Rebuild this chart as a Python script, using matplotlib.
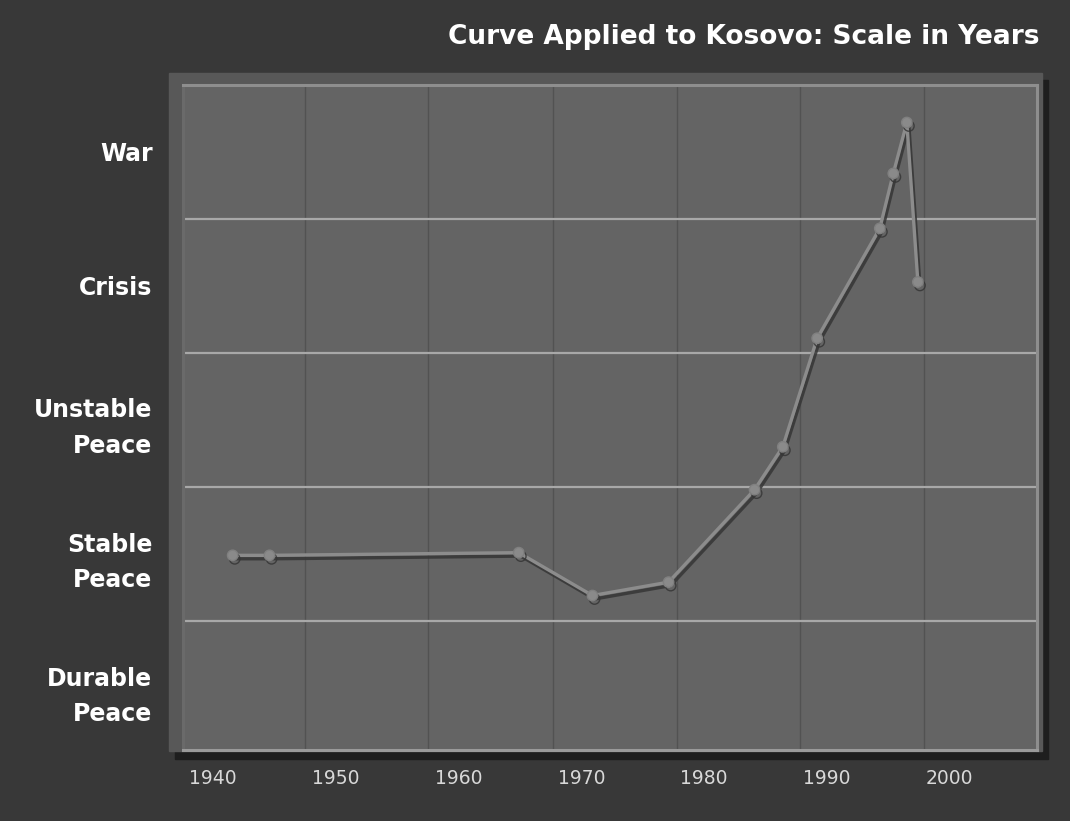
import matplotlib
matplotlib.use("Agg")
import matplotlib.pyplot as plt
import matplotlib.patheffects as pe
from matplotlib.patches import Rectangle

# ---- data ----
years = [1941.6, 1944.6, 1964.9, 1970.9, 1977.1, 1984.1, 1986.4, 1989.2, 1994.3, 1995.4, 1996.5, 1997.4]
levels = [1.49, 1.49, 1.51, 1.19, 1.29, 1.98, 2.30, 3.11, 3.93, 4.34, 4.72, 3.53]
level_labels = ["Durable\nPeace", "Stable\nPeace", "Unstable\nPeace", "Crisis", "War"]
year_ticks = [1940, 1950, 1960, 1970, 1980, 1990, 2000]
title = "Curve Applied to Kosovo: Scale in Years"

W, H = 1070, 821
fig = plt.figure(figsize=(W / 100, H / 100), dpi=100, facecolor="#383838")

def px_rect(x0, y0, x1, y1, **kw):
    r = Rectangle((x0 / W, 1 - y1 / H), (x1 - x0) / W, (y1 - y0) / H,
                  transform=fig.transFigure, zorder=-10, **kw)
    fig.patches.append(r)

# shadow and bevel frame
px_rect(175, 80, 1048, 759, color="#1e1e1e")
px_rect(169, 73, 1042, 751, color="#585858")

ax_l, ax_r, ax_t, ax_b = 183, 1037, 85, 750
ax = fig.add_axes([ax_l / W, 1 - ax_b / H, (ax_r - ax_l) / W, (ax_b - ax_t) / H])
ax.set_zorder(5)
ax.set_facecolor("#646464")

ppy = 12.28
x0 = 1940 - (213 - ax_l) / ppy
x1 = x0 + (ax_r - ax_l) / ppy
ax.set_xlim(x0, x1)
ax.set_ylim(5 - (ax_b - ax_t) / 134.0, 5)

# grid
for gx in [1947.5, 1957.5, 1967.7, 1977.8, 1987.8, 1997.9]:
    ax.axvline(gx, color="#525252", lw=1.0, zorder=1)
for gy in [1, 2, 3, 4]:
    ax.axhline(gy, color="#a8a8a8", lw=1.6, zorder=1)

for s in ax.spines.values():
    s.set_linewidth(2.2)
ax.spines["top"].set_color("#8e8e8e")
ax.spines["right"].set_color("#8e8e8e")
ax.spines["left"].set_color("#6a6a6a")
ax.spines["bottom"].set_color("#9a9a9a")

ax.plot(years, levels, color="#8c8c8c", lw=2.4, marker="o", ms=7.5,
        markerfacecolor="#8a8a8a", markeredgecolor="#808080", zorder=3,
        path_effects=[pe.SimpleLineShadow(offset=(1.5, -2.5), shadow_color="#363636", alpha=0.85),
                      pe.Normal()])

ax.set_yticks([0.5, 1.5, 2.5, 3.5, 4.5])
ax.set_yticklabels(level_labels, fontsize=17, fontweight="bold", color="white",
                   linespacing=1.6)
ax.set_xticks(year_ticks)
ax.set_xticklabels([str(y) for y in year_ticks], fontsize=13.5, color="#d8d8d8")
ax.tick_params(axis="y", length=0, pad=22)
ax.tick_params(axis="x", length=0, pad=14)

fig.text(1040 / W, 1 - 37 / H, title, ha="right", va="center", fontsize=19,
         fontweight="bold", color="white")

fig.savefig("out.png", dpi=100, facecolor=fig.get_facecolor())
